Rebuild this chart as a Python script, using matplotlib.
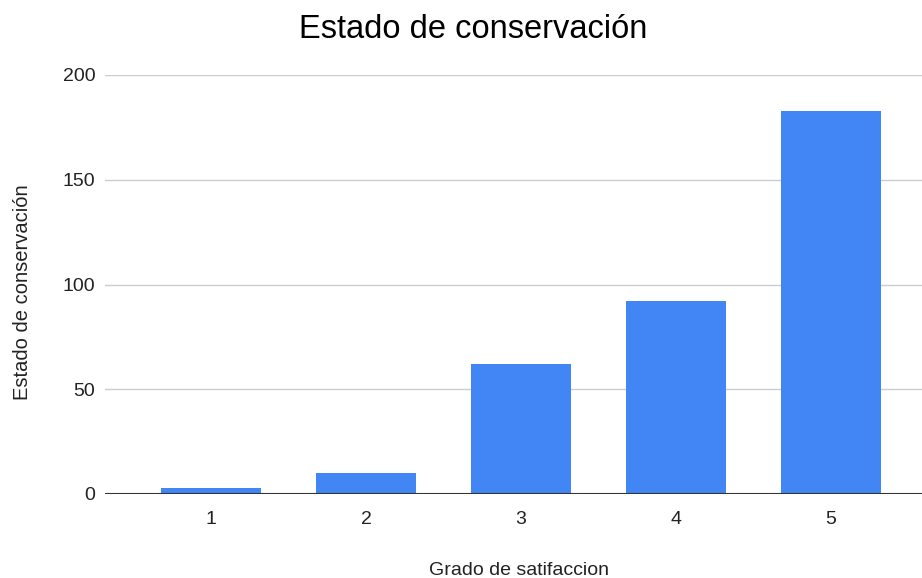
import matplotlib.pyplot as plt
import numpy as np

plt.rcParams['font.family'] = ['Liberation Sans', 'DejaVu Sans']

# Data
grades = ['1', '2', '3', '4', '5']
counts = [3, 10, 62, 92, 183]
y_ticks = [0, 50, 100, 150, 200]

x = np.arange(1, len(grades) + 1)

fig = plt.figure(figsize=(9.22, 5.78), dpi=100)
ax = fig.add_axes([105 / 922, 1 - 494 / 578, 1 - 105 / 922, (494 - 75) / 578])

ax.bar(x, counts, width=0.645, color='#4285f4', zorder=3)

ax.set_xlim(0.316, 5.587)
ax.set_ylim(0, 200)
ax.set_yticks(y_ticks)
ax.set_xticks(x)
ax.set_xticklabels(grades)

# Gridlines and baseline
ax.grid(axis='y', color='#cccccc', linewidth=1, zorder=0)
ax.axhline(0, color='#333333', linewidth=1.5, zorder=4)
for side in ['top', 'right', 'left', 'bottom']:
    ax.spines[side].set_visible(False)

ax.tick_params(axis='y', length=0, labelsize=14, labelcolor='#222222', pad=7)
ax.tick_params(axis='x', length=0, labelsize=14, labelcolor='#222222', pad=12)

ax.set_xlabel('Grado de satifaccion', fontsize=14, color='#222222', labelpad=25)
ax.set_ylabel('Estado de conservación', fontsize=14.5, color='#222222', labelpad=22)
ax.xaxis.label.set_x(0.507)
ax.yaxis.label.set_y(0.482)
fig.suptitle('Estado de conservación', fontsize=23.5, color='#000000', x=0.513, y=0.975)

plt.savefig('out.png', dpi=100)
